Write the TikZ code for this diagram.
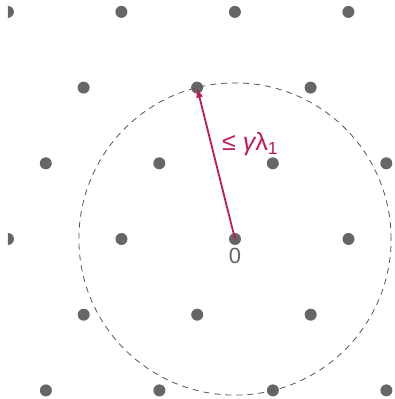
\documentclass[tikz,border=0pt]{standalone}
\usepackage{fontspec}
\setmainfont{Liberation Sans}
\usetikzlibrary{arrows.meta}
\definecolor{DotGray}{HTML}{666666}
\definecolor{RingGray}{HTML}{555555}
\definecolor{Crimson}{HTML}{C2185B}
\tikzset{
  latdot/.style={fill=DotGray},
  ring/.style={draw=RingGray,line width=0.8pt,dash pattern=on 6pt off 5pt},
  vecarrow/.style={-{Latex[length=10pt,width=7pt]},line width=1.8pt,draw=Crimson},
  vlabel/.style={text=Crimson,font=\fontsize{25}{30}\selectfont,inner sep=0pt},
  zerolabel/.style={text=DotGray,font=\fontsize{22}{26}\selectfont,inner sep=0pt}
}

\begin{document}
\begin{tikzpicture}[x=1pt,y=1pt]
\useasboundingbox (-235,-160) rectangle (159,239);
\coordinate (origin) at (0,0);
\coordinate (v1) at (-37.9,151.4);
% lattice points
\begin{scope}
\clip (-227,-160) rectangle (159,239);
\foreach \j in {-2,...,3}{
  \foreach \i in {-4,...,4}{
    \fill[latdot] ({113.5*\i+37.8*\j},{75.7*\j}) circle (6pt);
  }
}
\end{scope}
\draw[ring] (origin) circle (156.1pt);
\draw[vecarrow] (origin) -- (v1);
\node[vlabel,anchor=base west] (bound) at (-13,88) {≤ {\itshape γ}λ\textsubscript{1}};
\node[zerolabel,anchor=north] (zero) at (0,-9) {0};
\end{tikzpicture}
\end{document}
